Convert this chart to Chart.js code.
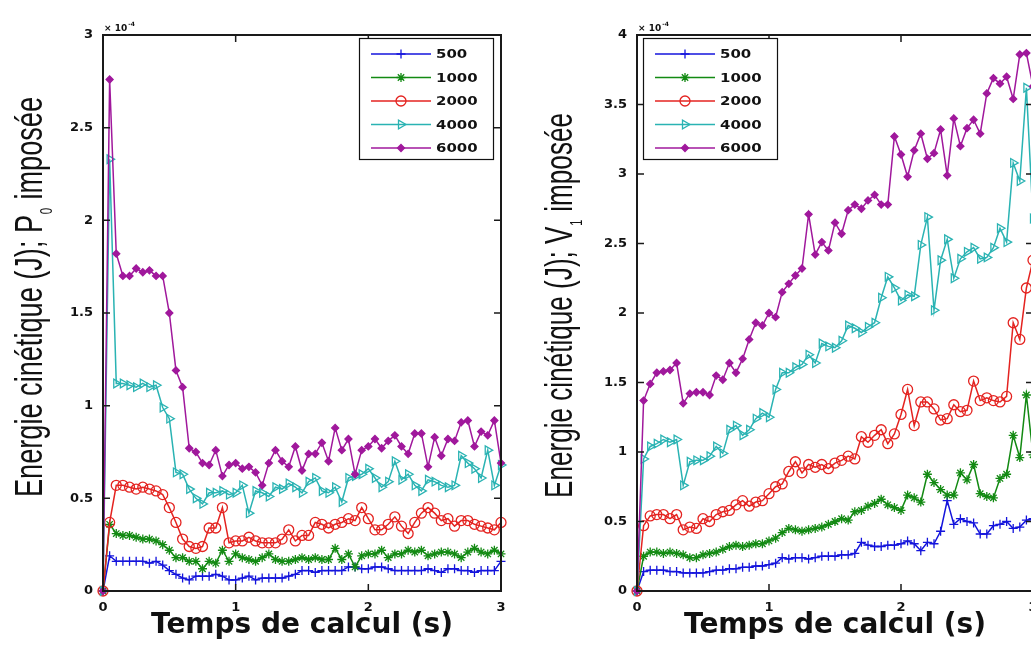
<!DOCTYPE html>
<html lang="fr">
<head>
<meta charset="utf-8">
<title>Energie cinétique</title>
<script src="https://cdn.jsdelivr.net/npm/chart.js"></script>
<style>
  html, body { margin: 0; padding: 0; background: #fff; overflow: hidden; }
  body { width: 1031px; height: 646px; position: relative; }
  #leftChart { position: absolute; left: 0; top: 0; }
  #rightChart { position: absolute; left: 520px; top: 0; }
</style>
</head>
<body>
<canvas id="leftChart" width="520" height="646"></canvas>
<canvas id="rightChart" width="540" height="646"></canvas>
<script>
// Temps de calcul (s)
const times = [0, 0.05, 0.1, 0.15, 0.2, 0.25, 0.3, 0.35, 0.4, 0.45,
  0.5, 0.55, 0.6, 0.65, 0.7, 0.75, 0.8, 0.85, 0.9, 0.95,
  1, 1.05, 1.1, 1.15, 1.2, 1.25, 1.3, 1.35, 1.4, 1.45,
  1.5, 1.55, 1.6, 1.65, 1.7, 1.75, 1.8, 1.85, 1.9, 1.95,
  2, 2.05, 2.1, 2.15, 2.2, 2.25, 2.3, 2.35, 2.4, 2.45,
  2.5, 2.55, 2.6, 2.65, 2.7, 2.75, 2.8, 2.85, 2.9, 2.95,
  3];

const seriesLabels = ['500', '1000', '2000', '4000', '6000'];
const xTickLabels = ['0', '1', '2', '3'];
const yTickLabelsP0 = ['0', '0.5', '1', '1.5', '2', '2.5', '3'];
const yTickLabelsV1 = ['0', '0.5', '1', '1.5', '2', '2.5', '3', '3.5', '4'];

// left plot : P0 imposée (x 10^-4 J)
const p0_500 = [0, 0.19, 0.16, 0.16, 0.16, 0.16, 0.16, 0.15, 0.16, 0.14,
  0.11, 0.09, 0.07, 0.06, 0.08, 0.08, 0.08, 0.09, 0.08, 0.06,
  0.06, 0.07, 0.08, 0.06, 0.07, 0.07, 0.07, 0.07, 0.08, 0.09,
  0.11, 0.11, 0.10, 0.11, 0.11, 0.11, 0.11, 0.13, 0.13, 0.12,
  0.12, 0.13, 0.13, 0.12, 0.11, 0.11, 0.11, 0.11, 0.11, 0.12,
  0.11, 0.10, 0.12, 0.12, 0.11, 0.11, 0.10, 0.11, 0.11, 0.11,
  0.16];
const p0_1000 = [0, 0.36, 0.31, 0.30, 0.30, 0.29, 0.28, 0.28, 0.27, 0.25,
  0.22, 0.18, 0.18, 0.16, 0.16, 0.12, 0.16, 0.15, 0.22, 0.16,
  0.20, 0.18, 0.17, 0.16, 0.18, 0.20, 0.17, 0.16, 0.16, 0.17,
  0.18, 0.17, 0.18, 0.17, 0.17, 0.23, 0.17, 0.20, 0.13, 0.19,
  0.20, 0.20, 0.22, 0.18, 0.20, 0.20, 0.22, 0.21, 0.22, 0.19,
  0.20, 0.21, 0.21, 0.20, 0.18, 0.21, 0.23, 0.21, 0.20, 0.22,
  0.20];
const p0_2000 = [0, 0.37, 0.57, 0.57, 0.56, 0.55, 0.56, 0.55, 0.54, 0.52,
  0.45, 0.37, 0.28, 0.24, 0.23, 0.24, 0.34, 0.34, 0.45, 0.26,
  0.27, 0.27, 0.29, 0.27, 0.26, 0.26, 0.26, 0.28, 0.33, 0.27,
  0.30, 0.30, 0.37, 0.36, 0.34, 0.36, 0.37, 0.39, 0.38, 0.45,
  0.39, 0.33, 0.33, 0.36, 0.40, 0.35, 0.31, 0.37, 0.42, 0.45,
  0.42, 0.38, 0.39, 0.35, 0.38, 0.38, 0.36, 0.35, 0.34, 0.33,
  0.37];
const p0_4000 = [0, 2.33, 1.12, 1.12, 1.11, 1.10, 1.12, 1.10, 1.11, 0.99,
  0.93, 0.64, 0.63, 0.55, 0.50, 0.47, 0.53, 0.53, 0.54, 0.52,
  0.53, 0.57, 0.42, 0.54, 0.53, 0.51, 0.56, 0.55, 0.58, 0.56,
  0.53, 0.59, 0.61, 0.54, 0.53, 0.56, 0.48, 0.61, 0.62, 0.63,
  0.66, 0.61, 0.56, 0.59, 0.70, 0.60, 0.63, 0.57, 0.54, 0.60,
  0.59, 0.57, 0.56, 0.57, 0.73, 0.69, 0.66, 0.61, 0.76, 0.57,
  0.68];
const p0_6000 = [0, 2.76, 1.82, 1.70, 1.70, 1.74, 1.72, 1.73, 1.70, 1.70,
  1.50, 1.19, 1.10, 0.77, 0.75, 0.69, 0.68, 0.76, 0.62, 0.68,
  0.69, 0.66, 0.67, 0.64, 0.57, 0.69, 0.76, 0.70, 0.67, 0.78,
  0.65, 0.74, 0.74, 0.80, 0.70, 0.88, 0.76, 0.82, 0.63, 0.76,
  0.78, 0.82, 0.77, 0.81, 0.84, 0.78, 0.74, 0.85, 0.85, 0.67,
  0.83, 0.73, 0.82, 0.81, 0.91, 0.92, 0.78, 0.86, 0.84, 0.92,
  0.69];

// right plot : V1 imposée (x 10^-4 J)
const v1_500 = [0, 0.14, 0.15, 0.15, 0.15, 0.14, 0.14, 0.13, 0.13, 0.13,
  0.13, 0.14, 0.15, 0.15, 0.16, 0.16, 0.17, 0.17, 0.18, 0.18,
  0.19, 0.20, 0.24, 0.23, 0.24, 0.24, 0.23, 0.24, 0.25, 0.25,
  0.25, 0.26, 0.26, 0.27, 0.35, 0.33, 0.32, 0.32, 0.33, 0.33,
  0.34, 0.36, 0.34, 0.29, 0.35, 0.34, 0.43, 0.65, 0.48, 0.52,
  0.50, 0.49, 0.41, 0.41, 0.47, 0.48, 0.50, 0.45, 0.46, 0.51,
  0.52];
const v1_1000 = [0, 0.25, 0.28, 0.28, 0.27, 0.28, 0.27, 0.26, 0.24, 0.24,
  0.26, 0.27, 0.28, 0.30, 0.32, 0.33, 0.32, 0.33, 0.34, 0.34,
  0.36, 0.38, 0.42, 0.45, 0.44, 0.43, 0.44, 0.45, 0.46, 0.48,
  0.50, 0.52, 0.51, 0.57, 0.58, 0.61, 0.63, 0.66, 0.62, 0.60,
  0.58, 0.69, 0.67, 0.64, 0.84, 0.78, 0.73, 0.69, 0.69, 0.85,
  0.80, 0.91, 0.70, 0.68, 0.67, 0.81, 0.84, 1.12, 0.96, 1.41,
  0.98];
const v1_2000 = [0, 0.47, 0.54, 0.55, 0.55, 0.52, 0.55, 0.44, 0.46, 0.45,
  0.52, 0.50, 0.55, 0.57, 0.58, 0.62, 0.65, 0.61, 0.64, 0.65,
  0.70, 0.75, 0.77, 0.86, 0.93, 0.85, 0.91, 0.89, 0.91, 0.88,
  0.92, 0.94, 0.97, 0.95, 1.11, 1.07, 1.12, 1.16, 1.06, 1.13,
  1.27, 1.45, 1.19, 1.36, 1.36, 1.31, 1.23, 1.24, 1.34, 1.29,
  1.30, 1.51, 1.37, 1.39, 1.37, 1.36, 1.40, 1.93, 1.81, 2.18,
  2.38];
const v1_4000 = [0, 0.95, 1.04, 1.06, 1.09, 1.07, 1.09, 0.76, 0.93, 0.94,
  0.94, 0.97, 1.04, 0.99, 1.16, 1.19, 1.12, 1.16, 1.24, 1.28,
  1.25, 1.45, 1.57, 1.57, 1.61, 1.63, 1.70, 1.64, 1.78, 1.76,
  1.75, 1.80, 1.91, 1.89, 1.86, 1.90, 1.93, 2.11, 2.26, 2.18,
  2.09, 2.13, 2.12, 2.49, 2.69, 2.02, 2.38, 2.53, 2.25, 2.39,
  2.44, 2.47, 2.39, 2.40, 2.47, 2.61, 2.51, 3.08, 2.95, 3.62,
  2.68];
const v1_6000 = [0, 1.37, 1.49, 1.57, 1.58, 1.59, 1.64, 1.35, 1.42, 1.43,
  1.43, 1.41, 1.55, 1.52, 1.64, 1.57, 1.67, 1.81, 1.93, 1.91,
  2.00, 1.97, 2.15, 2.21, 2.27, 2.32, 2.71, 2.42, 2.51, 2.45,
  2.65, 2.57, 2.74, 2.78, 2.75, 2.81, 2.85, 2.78, 2.78, 3.27,
  3.14, 2.98, 3.17, 3.29, 3.11, 3.15, 3.32, 2.99, 3.40, 3.20,
  3.33, 3.39, 3.29, 3.58, 3.69, 3.65, 3.70, 3.54, 3.86, 3.87,
  3.63];

const colors = ['#1414dc', '#138a13', '#e42320', '#2ab3b3', '#a0189c'];
const markers = [
  { pointStyle: 'cross', radius: 4.5, rotation: 0, filled: false },
  { pointStyle: 'star', radius: 4.5, rotation: 0, filled: false },
  { pointStyle: 'circle', radius: 5, rotation: 0, filled: false },
  { pointStyle: 'triangle', radius: 5, rotation: 90, filled: false },
  { pointStyle: 'rectRot', radius: 3.5, rotation: 0, filled: true }
];

const tickFont = { family: '"DejaVu Sans", sans-serif', weight: 'bold', size: 13 };

function makeDatasets(seriesList) {
    return seriesList.map((vals, i) => ({
        label: seriesLabels[i],
        data: vals.map((v, k) => ({ x: times[k], y: v })),
        borderColor: colors[i],
        backgroundColor: colors[i],
        borderWidth: 1.5,
        tension: 0,
        pointStyle: markers[i].pointStyle,
        pointRadius: markers[i].radius,
        pointRotation: markers[i].rotation,
        pointBorderColor: colors[i],
        pointBackgroundColor: markers[i].filled ? colors[i] : 'rgba(0,0,0,0)',
        pointBorderWidth: 1.3,
        clip: false,
        order: 5 - i
    }));
}

// box, inward ticks and the x10^-4 exponent, MATLAB style
const boxPlugin = {
    id: 'matlabBox',
    afterDatasetsDraw(chart) {
        const { ctx, chartArea: a, scales: { x, y } } = chart;
        ctx.save();
        ctx.strokeStyle = '#1a1a1a';
        ctx.lineWidth = 2;
        ctx.strokeRect(a.left, a.top, a.right - a.left, a.bottom - a.top);
        ctx.lineWidth = 1.5;
        ctx.beginPath();
        x.ticks.forEach(t => {
            const px = x.getPixelForValue(t.value);
            ctx.moveTo(px, a.bottom); ctx.lineTo(px, a.bottom - 7);
            ctx.moveTo(px, a.top); ctx.lineTo(px, a.top + 7);
        });
        y.ticks.forEach(t => {
            const py = y.getPixelForValue(t.value);
            ctx.moveTo(a.left, py); ctx.lineTo(a.left + 7, py);
            ctx.moveTo(a.right, py); ctx.lineTo(a.right - 7, py);
        });
        ctx.stroke();

        ctx.fillStyle = '#111';
        ctx.textBaseline = 'alphabetic';
        ctx.font = 'bold 9px "DejaVu Sans", sans-serif';
        ctx.fillText('× 10', a.left + 1, a.top - 4);
        const w = ctx.measureText('× 10').width;
        ctx.font = 'bold 6px "DejaVu Sans", sans-serif';
        ctx.fillText('-4', a.left + 2 + w, a.top - 9);
        ctx.restore();
    }
};

// legend box drawn inside the axes
const boxLegend = {
    id: 'boxLegend',
    afterDraw(chart, args, opts) {
        const { ctx, chartArea: a } = chart;
        const bw = 134, bh = 121;
        const left = opts.side === 'right' ? a.right - 8 - bw : a.left + 6;
        const top = a.top + 3;
        ctx.save();
        ctx.fillStyle = '#fff';
        ctx.fillRect(left, top, bw, bh);
        ctx.strokeStyle = '#111';
        ctx.lineWidth = 1.2;
        ctx.strokeRect(left + 0.5, top + 0.5, bw, bh);
        chart.data.datasets.forEach((ds, i) => {
            const cy = top + 16 + i * 23.5;
            ctx.strokeStyle = colors[i];
            ctx.lineWidth = 1.5;
            ctx.beginPath();
            ctx.moveTo(left + 12, cy);
            ctx.lineTo(left + 72, cy);
            ctx.stroke();
            ctx.fillStyle = markers[i].filled ? colors[i] : 'rgba(0,0,0,0)';
            ctx.lineWidth = 1.3;
            Chart.helpers.drawPoint(ctx, {
                pointStyle: markers[i].pointStyle,
                rotation: markers[i].rotation,
                radius: markers[i].radius,
                borderWidth: 1.3
            }, left + 42, cy);
            ctx.save();
            ctx.translate(left + 77, cy);
            ctx.scale(1.15, 1);
            ctx.fillStyle = '#111';
            ctx.font = 'bold 13px "DejaVu Sans", sans-serif';
            ctx.textBaseline = 'middle';
            ctx.fillText(ds.label, 0, 1);
            ctx.restore();
        });
        ctx.restore();
    }
};

// rotated y title with a real subscript
const yTitle = {
    id: 'yTitle',
    afterDraw(chart, args, opts) {
        const { ctx } = chart;
        const mainFont = '38px "Liberation Sans", Arial, sans-serif';
        const subFont = '16px "Liberation Sans", Arial, sans-serif';
        ctx.save();
        ctx.font = mainFont;
        const w1 = ctx.measureText(opts.before).width;
        const w3 = ctx.measureText(opts.after).width;
        ctx.font = subFont;
        const w2 = ctx.measureText(opts.sub).width + 2;
        const s = opts.length / (w1 + w2 + w3);
        ctx.translate(opts.x, opts.y);
        ctx.rotate(-Math.PI / 2);
        ctx.scale(s, 1);
        ctx.fillStyle = '#111';
        ctx.textBaseline = 'alphabetic';
        ctx.font = mainFont;
        ctx.fillText(opts.before, 0, 0);
        ctx.font = subFont;
        ctx.fillText(opts.sub, w1 + 1, 10);
        ctx.font = mainFont;
        ctx.fillText(opts.after, w1 + w2, 0);
        ctx.restore();
    }
};

function makeChart(canvasId, seriesList, yMax, yLabels, axisWidth, padRight, legendSide, title) {
    const ctx = document.getElementById(canvasId).getContext('2d');
    return new Chart(ctx, {
        type: 'line',
        data: { datasets: makeDatasets(seriesList) },
        options: {
            responsive: false,
            animation: false,
            events: [],
            layout: { padding: { top: 35, right: padRight, left: 0, bottom: 0 } },
            scales: {
                x: {
                    type: 'linear', min: 0, max: 3,
                    grid: { display: false, drawTicks: false },
                    border: { display: false },
                    ticks: {
                        stepSize: 1, padding: 9, color: '#111', font: tickFont,
                        maxRotation: 0, autoSkip: false,
                        callback: (v, i) => xTickLabels[i]
                    },
                    title: {
                        display: true, text: 'Temps de calcul (s)', color: '#111',
                        font: { family: '"DejaVu Sans", sans-serif', weight: 'bold', size: 28 },
                        padding: { top: 0, bottom: 3 }
                    },
                    afterFit: scale => { scale.height = 55; }
                },
                y: {
                    type: 'linear', min: 0, max: yMax,
                    grid: { display: false, drawTicks: false },
                    border: { display: false },
                    ticks: {
                        stepSize: 0.5, padding: 10, color: '#111', font: tickFont,
                        autoSkip: false,
                        callback: (v, i) => yLabels[i]
                    },
                    afterFit: scale => { scale.width = axisWidth; }
                }
            },
            plugins: {
                legend: { display: false },
                tooltip: { enabled: false },
                boxLegend: { side: legendSide },
                yTitle: title
            }
        },
        plugins: [boxPlugin, boxLegend, yTitle]
    });
}

makeChart('leftChart', [p0_500, p0_1000, p0_2000, p0_4000, p0_6000], 3, yTickLabelsP0,
    103, 19, 'right',
    { before: 'Energie cinétique (J); P', sub: '0', after: ' imposée', x: 42, y: 497, length: 400 });

makeChart('rightChart', [v1_500, v1_1000, v1_2000, v1_4000, v1_6000], 4, yTickLabelsV1,
    117, 27, 'left',
    { before: 'Energie cinétique (J); V', sub: '1', after: ' imposée', x: 52, y: 498, length: 385 });
</script>
</body>
</html>
